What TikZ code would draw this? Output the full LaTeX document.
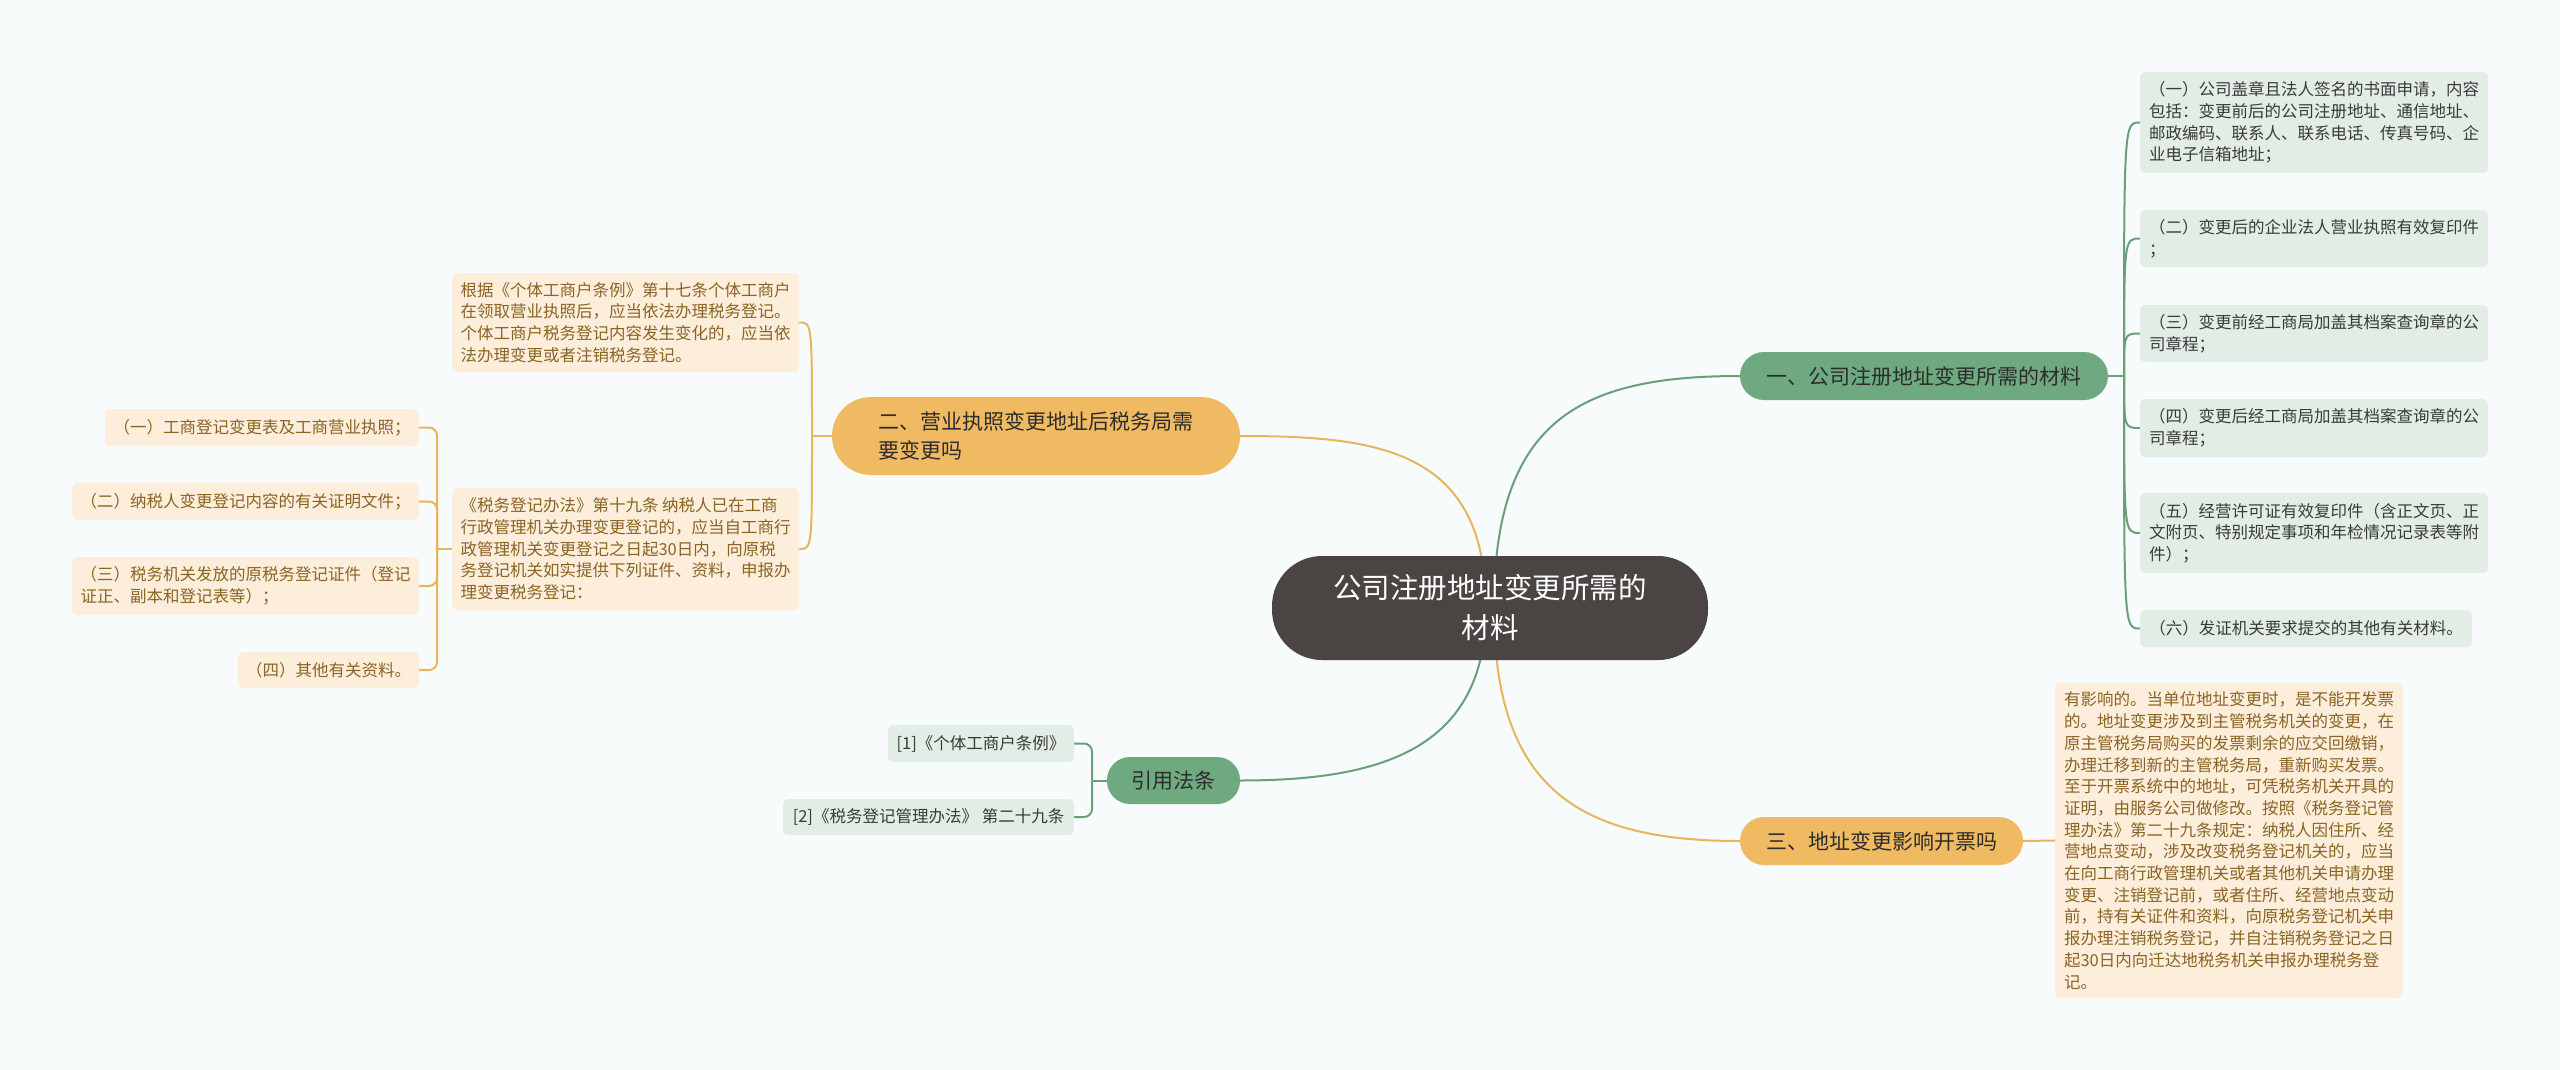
\documentclass[tikz,border=0pt]{standalone}
\usepackage{fontspec}
\setmainfont{Noto Sans CJK SC}
\pgfdeclarelayer{back}
\pgfdeclarelayer{bg}
\pgfsetlayers{back,bg,main}
\definecolor{bgc}{HTML}{F7FBFC}
\definecolor{rootc}{HTML}{4A4443}
\definecolor{gbr}{HTML}{6FA980}
\definecolor{obr}{HTML}{F0BA62}
\definecolor{gleafc}{HTML}{E2EEE5}
\definecolor{oleafc}{HTML}{FCEEDB}
\definecolor{gtext}{HTML}{3A3A3A}
\definecolor{otext}{HTML}{8A6424}
\definecolor{brtext}{HTML}{2C2C2C}
\definecolor{glc}{HTML}{6A9F79}
\definecolor{olc}{HTML}{E8B55C}
\begin{document}
\begin{tikzpicture}[x=1pt,y=-1pt,
  rootnode/.style={fill=rootc,text=white,rounded corners=50pt,minimum width=436pt,minimum height=104pt,align=center,inner sep=0pt,font=\fontsize{28.5}{40}\selectfont},
  gbranch/.style={fill=gbr,text=brtext,inner sep=0pt,align=left,font=\fontsize{21}{28.5}\selectfont},
  obranch/.style={fill=obr,text=brtext,inner sep=0pt,align=left,font=\fontsize{21}{28.5}\selectfont},
  gleaf/.style={fill=gleafc,text=gtext,rounded corners=5pt,inner sep=0pt,align=left,font=\fontsize{16.5}{21.7}\selectfont},
  oleaf/.style={fill=oleafc,text=otext,rounded corners=5pt,inner sep=0pt,align=left,font=\fontsize{16.5}{21.7}\selectfont},
  gline/.style={draw=glc,line width=2pt},
  oline/.style={draw=olc,line width=2pt}]
\useasboundingbox (0,0) rectangle (2560,1070);
\begin{pgfonlayer}{back}
\fill[bgc] (0,0) rectangle (2560,1070);
\end{pgfonlayer}

\node[rootnode] (root) at (1490,608) {公司注册地址变更所需的\\材料};

\node[gbranch,rounded corners=24pt,minimum width=368pt,minimum height=48pt] (b1) at (1924,376) {一、公司注册地址变更所需的材料};
\node[obranch,rounded corners=39pt,minimum width=408pt,minimum height=78pt] (b2) at (1036,436) {二、营业执照变更地址后税务局需\\要变更吗};
\node[obranch,rounded corners=24pt,minimum width=283pt,minimum height=48pt] (b3) at (1881.5,841) {三、地址变更影响开票吗};
\node[gbranch,rounded corners=23pt,minimum width=133pt,minimum height=47pt] (cite) at (1173.5,780.5) {引用法条};

\node[gleaf,minimum width=348pt,minimum height=101pt] (c1) at (2314,122.5) {（一）公司盖章且法人签名的书面申请，内容\\包括：变更前后的公司注册地址、通信地址、\\邮政编码、联系人、联系电话、传真号码、企\\业电子信箱地址；};
\node[gleaf,minimum width=348pt,minimum height=57pt] (c2) at (2314,238.5) {（二）变更后的企业法人营业执照有效复印件\\；};
\node[gleaf,minimum width=348pt,minimum height=57pt] (c3) at (2314,333.5) {（三）变更前经工商局加盖其档案查询章的公\\司章程；};
\node[gleaf,minimum width=348pt,minimum height=58pt] (c4) at (2314,428) {（四）变更后经工商局加盖其档案查询章的公\\司章程；};
\node[gleaf,minimum width=348pt,minimum height=80pt] (c5) at (2314,533) {（五）经营许可证有效复印件（含正文页、正\\文附页、特别规定事项和年检情况记录表等附\\件）；};
\node[gleaf,minimum width=332pt,minimum height=37pt] (c6) at (2306,628.5) {（六）发证机关要求提交的其他有关材料。};

\node[gleaf,minimum width=186pt,minimum height=37pt] (r1) at (981,743.5) {[1]《个体工商户条例》};
\node[gleaf,minimum width=291pt,minimum height=36pt] (r2) at (928.5,817) {[2]《税务登记管理办法》 第二十九条};

\node[oleaf,minimum width=347pt,minimum height=99pt] (l1) at (625.5,322.5) {根据《个体工商户条例》第十七条个体工商户\\在领取营业执照后，应当依法办理税务登记。\\个体工商户税务登记内容发生变化的，应当依\\法办理变更或者注销税务登记。};
\node[oleaf,minimum width=347pt,minimum height=122pt] (l2) at (625.5,549) {《税务登记办法》第十九条 纳税人已在工商\\行政管理机关办理变更登记的，应当自工商行\\政管理机关变更登记之日起30日内，向原税\\务登记机关如实提供下列证件、资料，申报办\\理变更税务登记：};

\node[oleaf,minimum width=314pt,minimum height=37pt] (ll1) at (262,427.5) {（一）工商登记变更表及工商营业执照；};
\node[oleaf,minimum width=347pt,minimum height=37pt] (ll2) at (245.5,501.5) {（二）纳税人变更登记内容的有关证明文件；};
\node[oleaf,minimum width=347pt,minimum height=58pt] (ll3) at (245.5,586) {（三）税务机关发放的原税务登记证件（登记\\证正、副本和登记表等）；};
\node[oleaf,minimum width=181pt,minimum height=36pt] (ll4) at (328.5,670) {（四）其他有关资料。};

\node[oleaf,minimum width=348pt,minimum height=315pt] (b3c) at (2229,840.5) {有影响的。当单位地址变更时，是不能开发票\\的。地址变更涉及到主管税务机关的变更，在\\原主管税务局购买的发票剩余的应交回缴销，\\办理迁移到新的主管税务局，重新购买发票。\\至于开票系统中的地址，可凭税务机关开具的\\证明，由服务公司做修改。按照《税务登记管\\理办法》第二十九条规定：纳税人因住所、经\\营地点变动，涉及改变税务登记机关的，应当\\在向工商行政管理机关或者其他机关申请办理\\变更、注销登记前，或者住所、经营地点变动\\前，持有关证件和资料，向原税务登记机关申\\报办理注销税务登记，并自注销税务登记之日\\起30日内向迁达地税务机关申报办理税务登\\记。};

\coordinate (lj) at (437,549);
\coordinate (cj) at (1092,780.5);
\coordinate (tj) at (2124,376);
\coordinate (oj) at (812,436);

\begin{pgfonlayer}{bg}
\draw[gline] ([xshift=4pt]root.center) .. controls (1494,420) and (1580,376) .. (b1.west);
\draw[oline] ([xshift=-4pt]root.center) .. controls (1486,450) and (1380,436) .. (b2.east);
\draw[oline] ([xshift=4pt]root.center) .. controls (1494,790) and (1580,841) .. (b3.west);
\draw[gline] ([xshift=-4pt]root.center) .. controls (1486,750) and (1380,780.5) .. (cite.east);
\draw[gline] (b1.east) -- (tj);
\foreach \c in {c1,c2,c3,c4,c5,c6}
  \draw[gline] (tj) .. controls (tj |- \c.west) and (tj |- \c.west) .. (\c.west);
\draw[oline] (b2.west) -- (oj);
\foreach \c in {l1,l2}
  \draw[oline] (oj) .. controls (oj |- \c.east) and (oj |- \c.east) .. (\c.east);
\draw[oline] (l2.west) -- (lj);
\foreach \c in {ll1,ll2,ll3,ll4}
  \draw[oline,rounded corners=8pt] (lj) |- (\c.east);
\draw[gline] (cite.west) -- (cj);
\foreach \c in {r1,r2}
  \draw[gline,rounded corners=8pt] (cj) |- (\c.east);
\draw[oline] (b3.east) -- (b3c.west);
\end{pgfonlayer}
\end{tikzpicture}
\end{document}
